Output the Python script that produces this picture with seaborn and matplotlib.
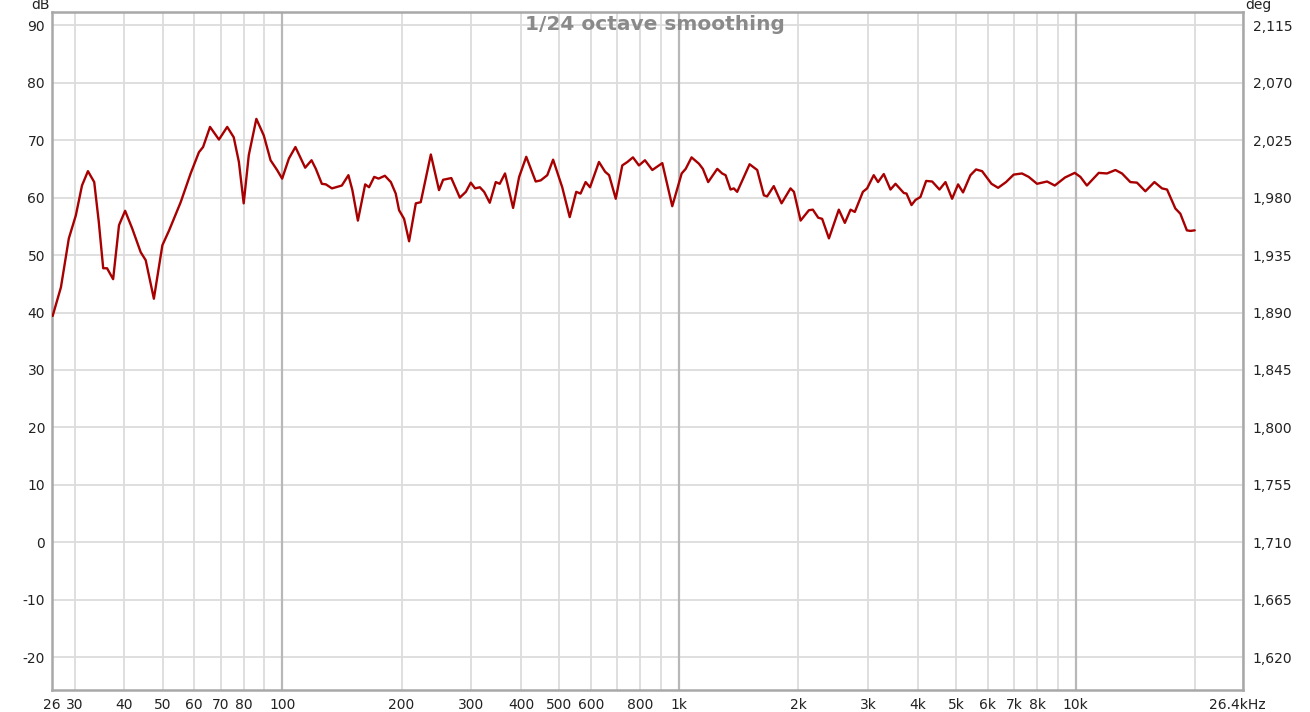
import matplotlib
matplotlib.use('Agg')
import matplotlib.pyplot as plt
import matplotlib.transforms as mtransforms
import seaborn as sns

# frequency response (Hz, dB)
freq_hz = [26.4, 27.7, 29.0, 30.2, 31.3, 32.4, 33.6, 34.5, 35.4, 36.2,
           37.5, 38.8, 40.2, 41.9, 44.0, 45.3, 47.5, 49.9, 51.9, 55.5,
           58.8, 61.7, 63.2, 65.8, 69.3, 72.7, 75.5, 77.8, 80.0, 82.4,
           86.1, 89.9, 93.5, 97.1, 100, 104, 108,
           114.3, 118.6, 121.6, 125.9, 128.9, 133.5, 141.4, 146.9, 150.3, 155.2,
           161.9, 165.6, 170.6, 175.0, 181.5, 187.9, 193.3, 197.1, 202.9, 208.9,
           217.2, 223.5, 237, 248.5, 254.5, 266.9, 280.4, 290.4, 298.8, 306.3,
           314.9, 322.9, 333.6, 345.4, 353.5, 364.5, 382, 395.6, 412.3,
           435.5, 448.5, 465.8, 481.8, 508, 530.6, 551, 565, 581.8, 596.9,
           628.7, 651.5, 666.8, 693.1, 719.8, 741.5, 765.8, 792.9, 821, 856.8,
           881.9, 908, 962, 1016, 1040, 1076, 1123, 1149, 1185, 1249,
           1285, 1311, 1349, 1375, 1402, 1458, 1507, 1575, 1637, 1668, 1734,
           1814, 1911, 1949, 2026, 2126, 2175, 2244, 2296, 2388, 2529,
           2619, 2707, 2775, 2908, 2980, 3097, 3176, 3283, 3413, 3514,
           3688, 3746, 3856, 3947, 4061, 4198, 4347, 4536, 4696, 4880,
           5053, 5200, 5428, 5609, 5808, 6134, 6374, 6674, 6977,
           7321, 7614, 7990, 8469, 8856, 9400, 9943, 10276, 10670, 11430,
           11990, 12590, 13080, 13730, 14270, 14980, 15790, 16500, 16990, 17830,
           18350, 19060, 19450, 19950]
spl_db = [39.4, 44.4, 52.9, 56.9, 62.1, 64.6, 62.7, 55.8, 47.7, 47.7,
          45.8, 55.2, 57.7, 54.6, 50.5, 49.1, 42.4, 51.7, 54.3, 59.2,
          64.2, 67.9, 68.8, 72.3, 70.1, 72.3, 70.5, 66.2, 59.0, 67.4,
          73.7, 70.8, 66.5, 64.8, 63.3, 66.8, 68.8,
          65.2, 66.5, 65.0, 62.4, 62.3, 61.6, 62.1, 63.9, 61.3, 56.0,
          62.3, 61.8, 63.6, 63.3, 63.8, 62.7, 60.7, 57.8, 56.3, 52.4,
          59.0, 59.2, 67.5, 61.3, 63.1, 63.4, 60.0, 61.0, 62.6, 61.6,
          61.8, 61.0, 59.1, 62.7, 62.4, 64.2, 58.2, 63.6, 67.1,
          62.8, 63.0, 63.9, 66.6, 61.8, 56.6, 61.0, 60.7, 62.7, 61.8,
          66.2, 64.5, 63.9, 59.8, 65.6, 66.2, 67.0, 65.6, 66.5, 64.8,
          65.4, 66.0, 58.5, 64.2, 65.0, 67.0, 65.9, 65.0, 62.7, 65.0,
          64.2, 63.9, 61.4, 61.6, 61.0, 63.6, 65.8, 64.8, 60.4, 60.2, 62.0,
          59.0, 61.6, 61.0, 56.0, 57.8, 57.9, 56.5, 56.3, 52.9, 57.9,
          55.6, 57.9, 57.5, 61.0, 61.6, 63.9, 62.7, 64.1, 61.4, 62.4,
          60.8, 60.7, 58.7, 59.6, 60.1, 62.9, 62.8, 61.4, 62.7, 59.8,
          62.3, 60.9, 63.9, 64.9, 64.6, 62.4, 61.7, 62.7, 64.0,
          64.2, 63.6, 62.4, 62.8, 62.1, 63.5, 64.3, 63.6, 62.1, 64.3,
          64.2, 64.8, 64.2, 62.7, 62.6, 61.1, 62.7, 61.6, 61.4, 58.1,
          57.2, 54.3, 54.2, 54.3]

x_ticks = [26.3, 30, 40, 50, 60, 70, 80, 100, 200, 300, 400, 500, 600, 800,
           1000, 2000, 3000, 4000, 5000, 6000, 7000, 8000, 10000, 26400]
x_labels = ['26', '30', '40', '50', '60', '70', '80', '100', '200', '300', '400',
            '500', '600', '800', '1k', '2k', '3k', '4k', '5k', '6k', '7k', '8k',
            '10k', '26.4kHz']
x_minor = [90, 700, 900, 9000, 20000]
db_ticks = [90, 80, 70, 60, 50, 40, 30, 20, 10, 0, -10, -20]
deg_ticks = [2115, 2070, 2025, 1980, 1935, 1890, 1845, 1800, 1755, 1710, 1665, 1620]

sns.set_style('white')
plt.rcParams['font.family'] = ['DejaVu Sans']
plt.rcParams['axes.unicode_minus'] = False

fig = plt.figure(figsize=(13.1, 7.12), dpi=100)
ax = fig.add_axes([52 / 1310, 22 / 712, 1191 / 1310, 678 / 712])

ax.set_xscale('log')
ax.set_xlim(26.3, 26400)
ax.set_ylim(-25.7, 92.3)
ax.set_xticks(x_ticks)
ax.set_xticklabels(x_labels)
ax.set_xticks(x_minor, minor=True)
ax.set_yticks(db_ticks)
ax.grid(which='both', color='#dcdcdc', lw=1.3)
for f in [100, 1000, 10000]:
    ax.axvline(f, color='#b8b8b8', lw=1.6, zorder=1)

sns.lineplot(x=freq_hz, y=spl_db, ax=ax, color='#a80000', lw=1.7,
             estimator=None, sort=False, zorder=3)

ax.tick_params(axis='both', which='both', length=0, labelsize=10, colors='#222222')
ax.tick_params(axis='x', pad=6)
ax.tick_params(axis='y', pad=5)
# nudge the end label a little to the left, like the reference
last = ax.get_xticklabels()[-1]
last.set_transform(last.get_transform() +
                   mtransforms.ScaledTranslation(-6 / 100, 0, fig.dpi_scale_trans))
for sp in ax.spines.values():
    sp.set_color('#a8a8a8')
    sp.set_linewidth(1.8)

# phase axis on the right
ax2 = ax.twinx()
ax2.set_ylim(1710 + 4.5 * -25.7, 1710 + 4.5 * 92.3)
ax2.set_yticks(deg_ticks)
ax2.set_yticklabels([f'{d:,}' for d in deg_ticks])
ax2.tick_params(axis='y', length=0, labelsize=10, colors='#222222', pad=7)
for sp in ax2.spines.values():
    sp.set_visible(False)

fig.text(41 / 1310, 1 - 5 / 712, 'dB', ha='center', va='center', fontsize=10, color='#222222')
fig.text(1258 / 1310, 1 - 5 / 712, 'deg', ha='center', va='center', fontsize=10, color='#222222')
ax.text(0.506, 0.981, '1/24 octave smoothing', transform=ax.transAxes, ha='center',
        va='center', fontsize=14.5, fontweight='bold', color='#8a8a8a')

fig.savefig('out.png', dpi=100)
